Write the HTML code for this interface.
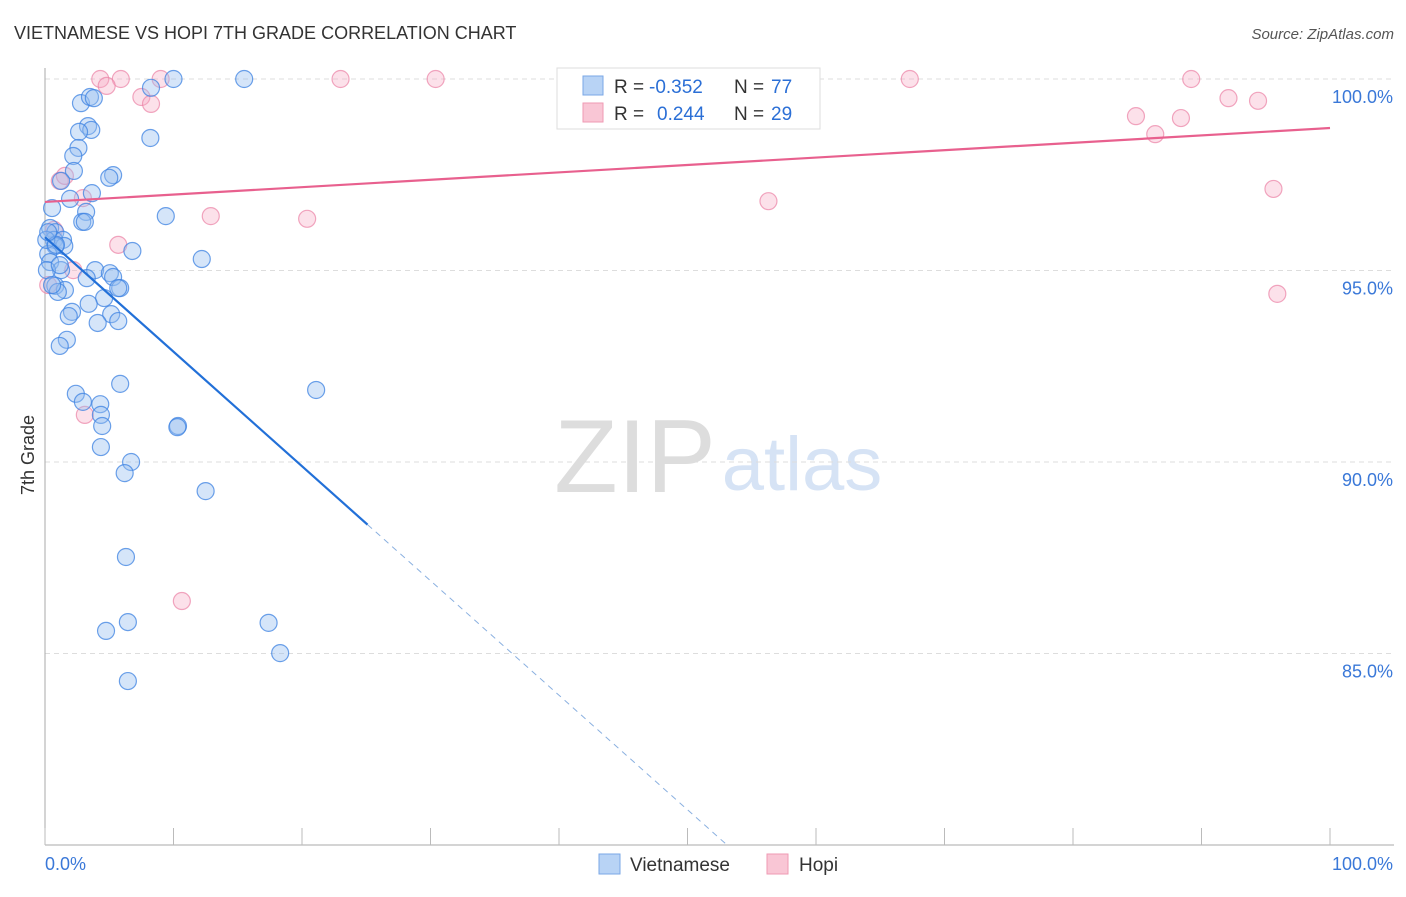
<!DOCTYPE html>
<html><head><meta charset="utf-8"><style>
body{margin:0;background:#fff;font-family:"Liberation Sans",sans-serif;}
svg text{font-family:"Liberation Sans",sans-serif;}
</style></head><body>
<svg id="chart" width="1406" height="892">
<text x="14" y="39" font-size="18" fill="#333">VIETNAMESE VS HOPI 7TH GRADE CORRELATION CHART</text>
<text x="1394" y="39" font-size="15" fill="#555" font-style="italic" text-anchor="end">Source: ZipAtlas.com</text>
<text x="34" y="455" font-size="18" fill="#333" transform="rotate(-90 34 455)" text-anchor="middle">7th Grade</text>
<g><text x="635" y="492" font-size="104" fill="#ddd" font-family="Liberation Serif" text-anchor="middle">ZIP</text><text x="802" y="490" font-size="76" fill="#d6e3f5" text-anchor="middle">atlas</text></g>
<g id="grid"></g><g id="axes"></g><g id="marks"></g>
<g>
<rect x="557" y="68" width="263" height="61" fill="#fff" stroke="#ddd"/>
<rect x="583" y="76" width="20" height="19" fill="#b8d3f5" stroke="#7aa7e6"/>
<rect x="583" y="103" width="20" height="19" fill="#f9c6d5" stroke="#ef9ab3"/>
<text x="614" y="93" font-size="19" fill="#333">R =</text>
<text x="649" y="93" font-size="19" fill="#2b6fd6">-0.352</text>
<text x="734" y="93" font-size="19" fill="#333">N =</text>
<text x="771" y="93" font-size="19" fill="#2b6fd6">77</text>
<text x="614" y="120" font-size="19" fill="#333">R =</text>
<text x="657" y="120" font-size="19" fill="#2b6fd6">0.244</text>
<text x="734" y="120" font-size="19" fill="#333">N =</text>
<text x="771" y="120" font-size="19" fill="#2b6fd6">29</text>
</g>
<g>
<rect x="599" y="854" width="21" height="20" fill="#b8d3f5" stroke="#7aa7e6"/>
<text x="630" y="871" font-size="19" fill="#333">Vietnamese</text>
<rect x="767" y="854" width="21" height="20" fill="#f9c6d5" stroke="#ef9ab3"/>
<text x="799" y="871" font-size="19" fill="#333">Hopi</text>
</g>
</svg>
<script>
const blueX=[2.8,3.5,3.8,8.25,10.0,15.5,3.35,3.6,2.65,2.6,2.2,8.2,2.25,5.3,5.0,1.25,3.65,1.95,3.2,2.9,3.1,9.4,0.55,0.4,0.8,0.7,1.4,1.5,0.8,6.8,0.25,0.4,1.25,3.9,5.05,3.25,5.3,12.2,5.85,5.7,0.8,1.55,1.0,4.6,3.4,2.1,1.85,5.15,4.1,5.7,1.7,1.15,5.85,2.4,2.95,4.3,4.35,4.45,10.35,10.3,21.1,4.35,6.7,6.2,12.5,6.3,6.45,4.75,17.4,18.3,6.45,0.15,0.55,0.1,0.85,0.25,1.15];
const blueY=[99.37,99.53,99.5,99.77,100,100,98.77,98.67,98.62,98.2,97.99,98.46,97.6,97.49,97.42,97.34,97.02,96.87,96.53,96.27,96.27,96.42,96.63,96.11,96.0,95.8,95.8,95.64,95.64,95.51,95.43,95.22,95.01,95.01,94.93,94.8,94.83,95.3,94.54,94.54,94.6,94.49,94.44,94.28,94.13,93.92,93.81,93.86,93.63,93.68,93.19,93.03,92.04,91.78,91.57,91.51,91.23,90.94,90.94,90.91,91.88,90.39,90.0,89.71,89.24,87.52,85.82,85.59,85.8,85.01,84.28,95.01,94.62,95.8,95.67,96.0,95.14];
const pinkX=[4.3,5.9,4.8,9.0,7.5,8.25,23.0,30.4,67.3,89.2,92.1,94.4,84.9,88.4,86.4,1.15,1.55,2.95,12.9,20.4,56.3,95.6,5.7,0.7,2.2,95.9,3.1,10.65,0.25];
const pinkY=[100,100,99.82,100,99.53,99.35,100,100,100,100,99.5,99.43,99.03,98.98,98.56,97.34,97.47,96.89,96.42,96.35,96.81,97.13,95.67,96.06,95.01,94.39,91.23,86.37,94.62];
const yTicks=[100,95,90,85];
const yTickLabels=["100.0%","95.0%","90.0%","85.0%"];
const blueTrend=[95.87,-0.299];
const pinkTrend=[96.79,0.0193];
const X0=45,X1=1330,YT=79,PPU=38.3;
const sx=v=>X0+(X1-X0)*v/100, sy=v=>YT+(100-v)*PPU;
const NS="http://www.w3.org/2000/svg";
function mk(t,a,p){const e=document.createElementNS(NS,t);for(const k in a)e.setAttribute(k,a[k]);p.appendChild(e);return e;}
const grid=document.getElementById('grid'),axes=document.getElementById('axes'),marks=document.getElementById('marks');
yTicks.forEach((t,i)=>{
 const l=mk('line',{x1:X0,x2:1394,y1:sy(t),y2:sy(t),stroke:'#ddd','stroke-dasharray':'5,4'},grid);
 
 
 const tx=mk('text',{x:1393,y:sy(t)+24,'font-size':18,fill:'#3a78d8','text-anchor':'end'},axes);
 tx.textContent=yTickLabels[i];
 
 
});
const ya=mk('line',{x1:X0,x2:X0,y1:68,y2:845,stroke:'#aaa'},axes);


const xa=mk('line',{x1:X0,x2:1394,y1:845,y2:845,stroke:'#aaa'},axes);


for(let i=0;i<=10;i++){const t=mk('line',{x1:sx(i*10),x2:sx(i*10),y1:828,y2:845,stroke:'#bbb'},axes);
 
 }
const xl0=mk('text',{x:45,y:870,'font-size':18,fill:'#3a78d8'},axes);xl0.textContent='0.0%';


const xl1=mk('text',{x:1393,y:870,'font-size':18,fill:'#3a78d8','text-anchor':'end'},axes);xl1.textContent='100.0%';


pinkX.forEach((x,i)=>{const c=mk('circle',{cx:sx(x),cy:sy(pinkY[i]),r:8.5,fill:'rgba(246,170,195,0.35)',stroke:'rgba(235,130,165,0.7)','stroke-width':1.2},marks);
 
 });
blueX.forEach((x,i)=>{const c=mk('circle',{cx:sx(x),cy:sy(blueY[i]),r:8.5,fill:'rgba(150,190,240,0.4)',stroke:'rgba(60,130,225,0.75)','stroke-width':1.2},marks);
 
 });
const bEndSolid=25.1, bEndDash=(80-blueTrend[0])/blueTrend[1];
const b1=mk('line',{x1:sx(0),y1:sy(blueTrend[0]),x2:sx(bEndSolid),y2:sy(blueTrend[0]+blueTrend[1]*bEndSolid),stroke:'#2270d8','stroke-width':2.2},marks);


const b2=mk('line',{x1:sx(bEndSolid),y1:sy(blueTrend[0]+blueTrend[1]*bEndSolid),x2:sx(bEndDash),y2:sy(80),stroke:'#8ab0e0','stroke-width':1,'stroke-dasharray':'6,5'},marks);


const p1=mk('line',{x1:sx(0),y1:sy(pinkTrend[0]),x2:sx(100),y2:sy(pinkTrend[0]+pinkTrend[1]*100),stroke:'#e8608e','stroke-width':2.2},marks);


</script>
</body></html>
